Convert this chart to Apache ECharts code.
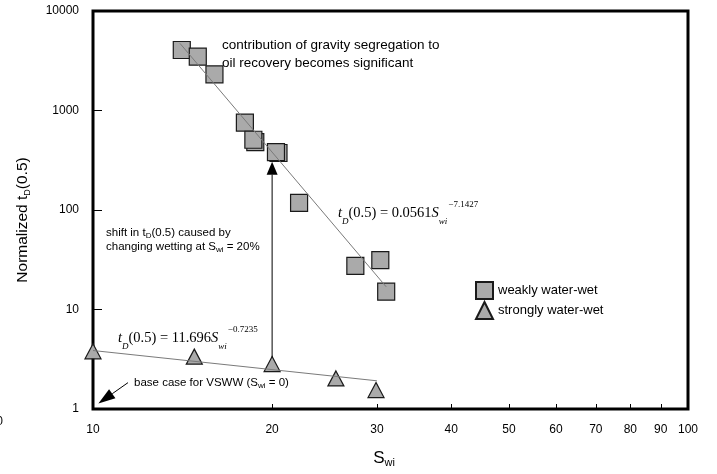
<!DOCTYPE html>
<html><head><meta charset="utf-8">
<script src="https://cdn.jsdelivr.net/npm/echarts@6/dist/echarts.min.js"></script>
<style>html,body{margin:0;padding:0;background:#fff}#c{width:717px;height:474px}</style>
</head><body><div id="c"></div>
<script>
// ---- data ----
const xTicks = [10, 20, 30, 40, 50, 60, 70, 80, 90, 100];
const yTicks = [1, 10, 100, 1000, 10000];
const weaklyWaterWet = [
  [14.1, 4055], [15.0, 3475], [16.0, 2310], [18.0, 755],
  [18.74, 482], [18.6, 508], [20.5, 374], [20.3, 381],
  [22.2, 118], [27.6, 27.5], [30.4, 31.4], [31.1, 15.1]
];
const stronglyWaterWet = [[10, 3.8], [14.8, 3.36], [20, 2.83], [25.6, 2.03], [29.9, 1.55]];
const weaklyFit = [[14.0, 4730], [31.1, 16.9]];
const stronglyFit = [[10, 3.87], [30, 1.92]];
// arrows: [fromX, fromY, toX, toY]
const arrows = [[20, 3.3, 20, 306], [11.45, 1.84, 10.21, 1.135]];

const SANS = '"Liberation Sans", Arial, sans-serif';
const SERIF = '"Liberation Serif", "Times New Roman", serif';
const FILL = '#aaaaaa';
const EDGE = '#1a1a1a';

const chart = echarts.init(document.getElementById('c'), null, {renderer: 'canvas'});

function formulaRich() {
  return {
    i: {fontFamily: SERIF, fontStyle: 'italic', fontSize: 14.5, lineHeight: 26, verticalAlign: 'middle', color: '#000'},
    n: {fontFamily: SERIF, fontSize: 14.5, lineHeight: 26, verticalAlign: 'middle', color: '#000'},
    d: {fontFamily: SERIF, fontStyle: 'italic', fontSize: 9, lineHeight: 14, verticalAlign: 'bottom', color: '#000'},
    w: {fontFamily: SERIF, fontStyle: 'italic', fontSize: 9, lineHeight: 6, verticalAlign: 'bottom', color: '#000'},
    s: {fontFamily: SERIF, fontSize: 9, lineHeight: 18, verticalAlign: 'top', color: '#000', padding: [0, 0, 0, 1]}
  };
}
function smallRich(fs) {
  return {
    n: {fontFamily: SANS, fontSize: fs, lineHeight: 14, verticalAlign: 'middle', color: '#000'},
    d: {fontFamily: SANS, fontSize: Math.round(fs * 0.7), lineHeight: 10, verticalAlign: 'bottom', color: '#000'}
  };
}

const option = {
  animation: false,
  backgroundColor: '#fff',
  grid: {left: 93, top: 11, right: 29, bottom: 65, show: true, borderColor: '#000', borderWidth: 3, backgroundColor: 'transparent'},
  legend: {
    data: [{name: 'weakly water-wet', icon: 'rect'}, {name: 'strongly water-wet', icon: 'triangle'}],
    orient: 'vertical', left: 470, top: 276, itemWidth: 17, itemHeight: 17, itemGap: 1,
    textStyle: {fontFamily: SANS, fontSize: 13, color: '#000'},
    selectedMode: false
  },
  xAxis: {
    type: 'log', logBase: 10, min: 10, max: 100,
    axisLine: {show: false},
    axisTick: {show: true, inside: true, length: 5, lineStyle: {color: '#000', width: 1}, customValues: xTicks},
    axisLabel: {show: true, customValues: xTicks, margin: 15, fontFamily: SANS, fontSize: 12, color: '#000', formatter: v => String(Math.round(v))},
    splitLine: {show: false}, minorTick: {show: false}
  },
  yAxis: {
    type: 'log', logBase: 10, min: 1, max: 10000,
    axisLine: {show: false},
    axisTick: {show: true, inside: true, length: 9, lineStyle: {color: '#000', width: 1}, customValues: yTicks},
    axisLabel: {show: true, customValues: yTicks, margin: 14, fontFamily: SANS, fontSize: 12, color: '#000', formatter: v => String(Math.round(v))},
    splitLine: {show: false}, minorTick: {show: false}
  },
  series: [
    {
      name: 'weakly water-wet', type: 'scatter', data: weaklyWaterWet, symbol: 'rect', symbolSize: 17, z: 2,
      itemStyle: {color: FILL, borderColor: EDGE, borderWidth: 1.2, opacity: 1}
    },
    {
      name: 'strongly water-wet', type: 'scatter', data: stronglyWaterWet, symbol: 'triangle', symbolSize: [16, 15], z: 2,
      itemStyle: {color: FILL, borderColor: EDGE, borderWidth: 1.2, opacity: 1}
    },
    {
      name: 'fitW', type: 'line', data: weaklyFit, symbol: 'none', z: 3, silent: true,
      lineStyle: {color: '#7a7a7a', width: 1}
    },
    {
      name: 'fitS', type: 'line', data: stronglyFit, symbol: 'none', z: 3, silent: true,
      lineStyle: {color: '#7a7a7a', width: 1}
    },
    {
      name: 'arrows', type: 'custom', data: arrows, z: 4, silent: true,
      encode: {x: [0, 2], y: [1, 3]},
      renderItem(params, api) {
        const p1 = api.coord([api.value(0), api.value(1)]);
        const p2 = api.coord([api.value(2), api.value(3)]);
        const len = params.dataIndex === 0 ? 13 : 17;
        const wid = 11;
        const dx = p2[0] - p1[0], dy = p2[1] - p1[1];
        const d = Math.hypot(dx, dy), ux = dx / d, uy = dy / d;
        const bx = p2[0] - ux * len, by = p2[1] - uy * len;
        const px = -uy, py = ux;
        return {
          type: 'group', children: [
            {type: 'line', shape: {x1: p1[0], y1: p1[1], x2: bx, y2: by}, style: {stroke: '#000', lineWidth: 1}},
            {type: 'polygon', shape: {points: [[p2[0], p2[1]], [bx + px * wid / 2, by + py * wid / 2], [bx - px * wid / 2, by - py * wid / 2]]}, style: {fill: '#000'}}
          ]
        };
      }
    }
  ],
  graphic: [
    {type: 'text', x: 222, y: 45, z: 10, style: {text: 'contribution of gravity segregation to', font: '13.5px ' + SANS, fill: '#000', textVerticalAlign: 'middle'}},
    {type: 'text', x: 222, y: 63, z: 10, style: {text: 'oil recovery becomes significant', font: '13.5px ' + SANS, fill: '#000', textVerticalAlign: 'middle'}},
    {type: 'text', x: 106, y: 233, z: 10, style: {text: '{n|shift in t}{d|D}{n|(0.5) caused by}', rich: smallRich(11.5), textVerticalAlign: 'middle'}},
    {type: 'text', x: 106, y: 247, z: 10, style: {text: '{n|changing wetting at S}{d|wi}{n| = 20%}', rich: smallRich(11.5), textVerticalAlign: 'middle'}},
    {type: 'text', x: 134, y: 383, z: 10, style: {text: '{n|base case for VSWW (S}{d|wi}{n| = 0)}', rich: smallRich(11.5), textVerticalAlign: 'middle'}},
    {type: 'text', x: 338, y: 213, z: 10, style: {text: '{i|t}{d|D}{n|(0.5) = 0.0561}{i|S}{w|wi}{s|−7.1427}', rich: formulaRich(), textVerticalAlign: 'middle'}},
    {type: 'text', x: 118, y: 338, z: 10, style: {text: '{i|t}{d|D}{n|(0.5) = 11.696}{i|S}{w|wi}{s|−0.7235}', rich: formulaRich(), textVerticalAlign: 'middle'}},
    {type: 'text', x: 23, y: 220, rotation: Math.PI / 2, z: 10, style: {text: '{n|Normalized t}{d|D}{n|(0.5)}', rich: {
      n: {fontFamily: SANS, fontSize: 15.5, lineHeight: 18, verticalAlign: 'middle', color: '#000'},
      d: {fontFamily: SANS, fontSize: 9, lineHeight: 12, verticalAlign: 'bottom', color: '#000'}
    }, textAlign: 'center', textVerticalAlign: 'middle'}},
    {type: 'text', x: 384, y: 458, z: 10, style: {text: '{n|S}{d|wi}', rich: {
      n: {fontFamily: SANS, fontSize: 17, lineHeight: 20, verticalAlign: 'middle', color: '#000'},
      d: {fontFamily: SANS, fontSize: 11, lineHeight: 14, verticalAlign: 'bottom', color: '#000'}
    }, textAlign: 'center', textVerticalAlign: 'middle'}},
    {type: 'text', x: 3, y: 422, z: 10, style: {text: '0', font: '12px ' + SANS, fill: '#000', textAlign: 'right', textVerticalAlign: 'middle'}}
  ]
};
chart.setOption(option);
</script>
</body></html>
